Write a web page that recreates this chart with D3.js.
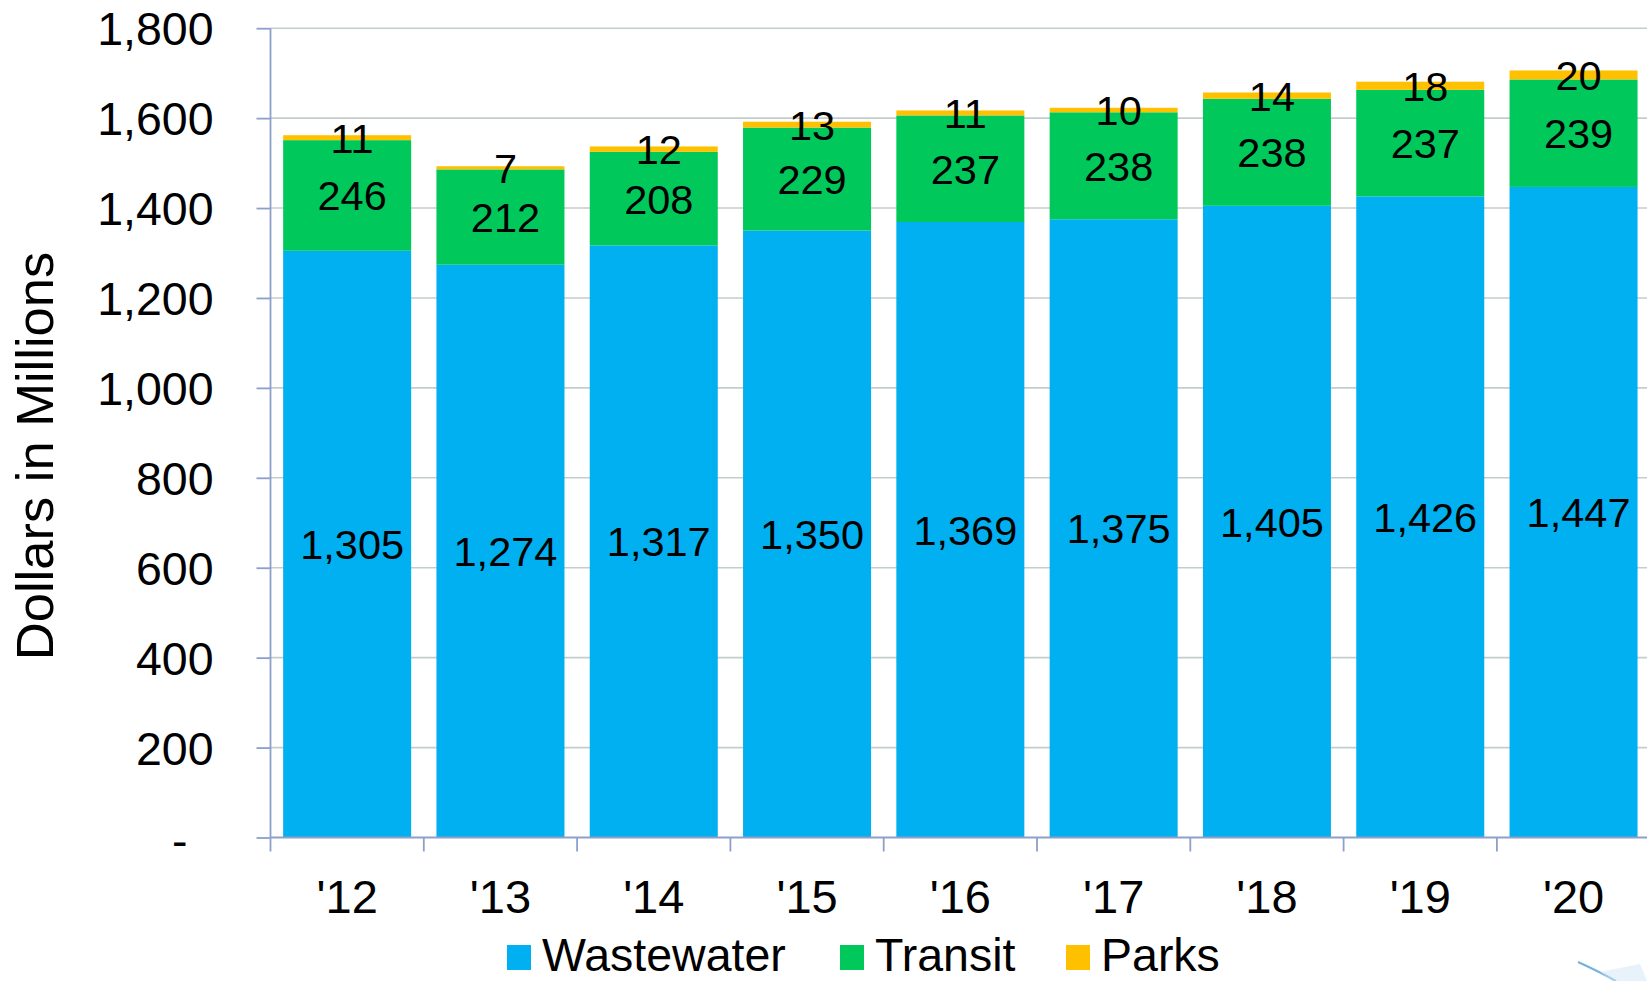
<!DOCTYPE html>
<html>
<head>
<meta charset="utf-8">
<script src="https://cdn.jsdelivr.net/npm/d3@7"></script>
<style>
  html, body { margin: 0; padding: 0; background: #ffffff; }
  svg { display: block; font-family: "Liberation Sans", Arial, sans-serif; }
</style>
</head>
<body>
<svg id="chart" width="1647" height="981"></svg>
<script>
// Fiscal years and annual spending by program, dollars in millions
const years = ["'12", "'13", "'14", "'15", "'16", "'17", "'18", "'19", "'20"];
const wastewater = [1305, 1274, 1317, 1350, 1369, 1375, 1405, 1426, 1447];
const transit = [246, 212, 208, 229, 237, 238, 238, 237, 239];
const parks = [11, 7, 12, 13, 11, 10, 14, 18, 20];
const seriesNames = ["Wastewater", "Transit", "Parks"];
const seriesColors = ["#00B0F0", "#00C85A", "#FFC000"];
const yTicks = [0, 200, 400, 600, 800, 1000, 1200, 1400, 1600, 1800];

const rows = years.map((yr, i) => ({
  year: yr,
  Wastewater: wastewater[i],
  Transit: transit[i],
  Parks: parks[i]
}));

const svg = d3.select("#chart");
const W = 1647;

const plotLeft = 270.5, plotBottom = 837.5, plotTop = 28.2;
const step = 153.3;

const x = d3.scaleBand()
  .domain(years)
  .range([plotLeft, plotLeft + step * years.length])
  .paddingInner(0.165)
  .paddingOuter(0.0825);

const y = d3.scaleLinear().domain([0, 1800]).range([plotBottom, plotTop]);

const stack = d3.stack().keys(seriesNames)(rows);

// Horizontal gridlines
svg.append("g")
  .selectAll("line")
  .data(yTicks.filter(d => d > 0))
  .join("line")
  .attr("x1", plotLeft).attr("x2", W)
  .attr("y1", d => y(d)).attr("y2", d => y(d))
  .attr("stroke", "#C3CDCD").attr("stroke-width", 1.6);

// Stacked bars
const layers = svg.append("g")
  .selectAll("g")
  .data(stack)
  .join("g")
  .attr("fill", (d, i) => seriesColors[i]);

layers.selectAll("rect")
  .data(d => d)
  .join("rect")
  .attr("x", d => x(d.data.year))
  .attr("width", x.bandwidth())
  .attr("y", d => y(d[1]))
  .attr("height", d => y(d[0]) - y(d[1]));

// Segment value labels
const fmt = d3.format(",");
const labels = svg.append("g")
  .attr("font-size", 41.5)
  .attr("fill", "#000")
  .attr("text-anchor", "middle");

stack.forEach(layer => {
  labels.selectAll(null)
    .data(layer)
    .join("text")
    .attr("x", d => x(d.data.year) + x.bandwidth() / 2 + 5)
    .attr("y", d => y((d[0] + d[1]) / 2))
    .attr("dy", "0.36em")
    .text(d => fmt(d[1] - d[0]));
});

// Y axis
const axisColor = "#8D9FCB";
const yAxis = svg.append("g")
  .attr("transform", `translate(${plotLeft},0)`)
  .call(d3.axisLeft(y)
    .tickValues(yTicks)
    .tickSize(14)
    .tickPadding(43)
    .tickFormat(d => d === 0 ? "-" : fmt(d)));

yAxis.select(".domain").attr("stroke", axisColor).attr("stroke-width", 1.8)
  .attr("d", `M0,${plotTop}V${plotBottom}`);
yAxis.selectAll(".tick line").attr("stroke", axisColor).attr("stroke-width", 1.8);
yAxis.selectAll(".tick text")
  .attr("font-size", 46.5)
  .attr("fill", "#000")
  .attr("font-family", "Liberation Sans, Arial, sans-serif")
  .attr("dy", "0.36em");
yAxis.selectAll(".tick text").filter(d => d === 0)
  .attr("x", -83)
  .attr("dy", "0.4em");

// X axis: baseline, category boundary ticks and year labels
const xAxis = svg.append("g")
  .attr("transform", `translate(0,${plotBottom})`)
  .call(d3.axisBottom(x).tickSize(0).tickPadding(0));

xAxis.select(".domain").attr("stroke", axisColor).attr("stroke-width", 1.8)
  .attr("d", `M${plotLeft},0H${W}`);
xAxis.selectAll(".tick text")
  .attr("font-size", 47)
  .attr("fill", "#000")
  .attr("font-family", "Liberation Sans, Arial, sans-serif")
  .attr("y", 75)
  .attr("dy", null);

const bounds = years.map(d => x(d) - x.step() * x.paddingOuter());
bounds.push(plotLeft + x.step() * years.length);
xAxis.append("g")
  .selectAll("line")
  .data(bounds)
  .join("line")
  .attr("x1", d => d).attr("x2", d => d)
  .attr("y1", 0).attr("y2", 14)
  .attr("stroke", axisColor).attr("stroke-width", 1.8);

// Y axis title
svg.append("text")
  .attr("transform", "translate(53,456) rotate(-90)")
  .attr("text-anchor", "middle")
  .attr("font-size", 52.5)
  .attr("fill", "#000")
  .text("Dollars in Millions");

// Legend
const legendX = [507, 840, 1066];
const legend = svg.append("g")
  .selectAll("g")
  .data(seriesNames)
  .join("g")
  .attr("transform", (d, i) => `translate(${legendX[i]},0)`);

legend.append("rect")
  .attr("x", 0).attr("y", 945)
  .attr("width", 24).attr("height", 25)
  .attr("fill", (d, i) => seriesColors[i]);

legend.append("text")
  .attr("x", 35).attr("y", 970.5)
  .attr("font-size", 46.5)
  .attr("fill", "#000")
  .text(d => d);

// Decorative swoosh in the lower right corner
svg.append("path")
  .attr("d", "M1578,962 Q1600,972 1616,981")
  .attr("fill", "none")
  .attr("stroke", "#3C8FCF")
  .attr("stroke-width", 2)
  .attr("opacity", 0.7);
svg.append("path")
  .attr("d", "M1600,972 L1640,964 L1647,981 L1612,981 Z")
  .attr("fill", "#CFE6F5")
  .attr("opacity", 0.5);
</script>
</body>
</html>
